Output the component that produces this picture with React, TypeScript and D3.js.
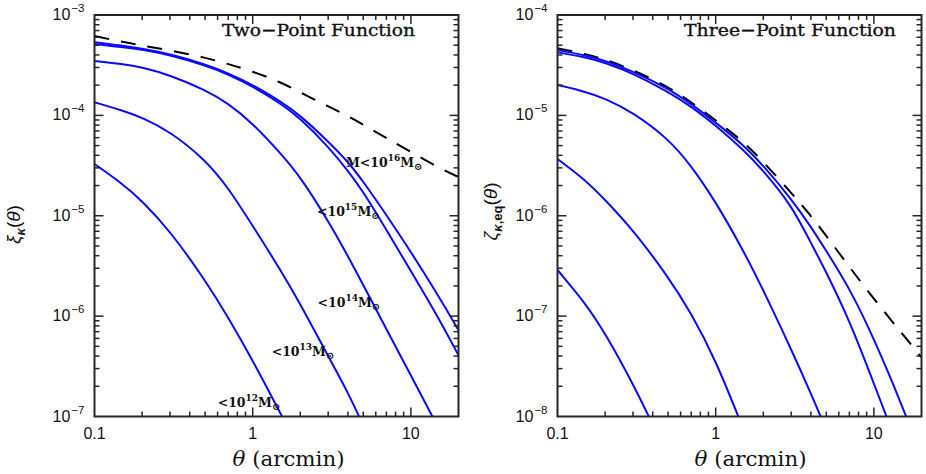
import React from "react";
import * as d3 from "d3";

// ---------- DATA ----------
const thetaGrid = [0.1, 0.15, 0.2, 0.3, 0.5, 0.7, 1, 1.5, 2, 3, 4, 5, 7, 10, 15, 20];

// Two-point function (left panel)
const twoPtTotal = [6.18e-4, 5.38e-4, 4.97e-4, 4.43e-4, 3.78e-4, 3.25e-4, 2.74e-4, 2.15e-4, 1.69e-4, 1.23e-4, 9.84e-5, 8.07e-5, 5.94e-5, 4.32e-5, 3.0e-5, 2.43e-5];
const twoPt16 = [5.35e-4, 4.95e-4, 4.62e-4, 4.09e-4, 3.24e-4, 2.63e-4, 2.02e-4, 1.38e-4, 1.0e-4, 5.5e-5, 3.47e-5, 2.19e-5, 1.02e-5, 4.37e-6, 1.58e-6, 7.24e-7];
const twoPt15 = [5.13e-4, 4.79e-4, 4.52e-4, 4.0e-4, 3.16e-4, 2.57e-4, 1.95e-4, 1.32e-4, 9.33e-5, 4.9e-5, 2.82e-5, 1.74e-5, 7.24e-6, 2.82e-6, 9.55e-7, 4.07e-7];
const twoPt14 = [3.48e-4, 3.25e-4, 3.01e-4, 2.52e-4, 1.79e-4, 1.32e-4, 8.34e-5, 4.19e-5, 2.45e-5, 8.91e-6, 3.98e-6, 2.04e-6, 7.41e-7, 2.57e-7, 7.59e-8];
const twoPt13 = [1.35e-4, 1.12e-4, 9.55e-5, 6.92e-5, 3.63e-5, 1.91e-5, 7.94e-6, 2.88e-6, 1.32e-6, 3.98e-7, 1.74e-7, 8.13e-8];
const twoPt12 = [3.28e-5, 2.09e-5, 1.41e-5, 7.08e-6, 2.29e-6, 9.77e-7, 3.63e-7, 1.07e-7, 4.47e-8];

// Three-point function (right panel)
const threePtTotal = [4.66e-5, 4.1e-5, 3.61e-5, 2.84e-5, 1.93e-5, 1.36e-5, 8.93e-6, 5.47e-6, 3.45e-6, 1.7e-6, 1.0e-6, 6.31e-7, 3.09e-7, 1.48e-7, 6.76e-8, 3.89e-8];
const threePt16 = [4.48e-5, 3.98e-5, 3.51e-5, 2.75e-5, 1.86e-5, 1.3e-5, 8.51e-6, 5.07e-6, 3.16e-6, 1.48e-6, 7.76e-7, 4.47e-7, 1.91e-7, 6.03e-8, 1.32e-8, 3.98e-9];
const threePt15 = [4.25e-5, 3.8e-5, 3.35e-5, 2.63e-5, 1.72e-5, 1.23e-5, 7.94e-6, 4.52e-6, 2.82e-6, 1.29e-6, 5.37e-7, 2.75e-7, 9.12e-8, 2.14e-8, 3.98e-9];
const threePt14 = [2.01e-5, 1.72e-5, 1.48e-5, 1.07e-5, 5.89e-6, 3.16e-6, 1.38e-6, 4.47e-7, 1.82e-7, 4.68e-8, 1.7e-8, 7.41e-9];
const threePt13 = [3.68e-6, 2.28e-6, 1.44e-6, 7.23e-7, 2.48e-7, 1.07e-7, 3.66e-8, 7.41e-9];
const threePt12 = [2.88e-7, 1.35e-7, 6.76e-8, 2.15e-8, 3.98e-9];

// Mass-cut labels (left panel): exponent, anchor theta, anchor value
const labelExp = ["16", "15", "14", "13", "12"];
const labelPrefix = ["M<10", "<10", "<10", "<10", "<10"];
const labelTheta = [11.0, 5.9, 5.95, 3.05, 1.39];
const labelValue = [2.97e-5, 9.8e-6, 1.2e-6, 3.95e-7, 1.22e-7];

const xDomain = [0.1, 20];
const leftYDomain = [1e-7, 1e-3];
const rightYDomain = [1e-8, 1e-4];

// ---------- LAYOUT ----------
const W = 926;
const H = 474;
const TOP = 15;
const BOTTOM = 416.5;
const BLUE = "#0a0aff";
const FRAME = "#262626";

type Series = { values: number[]; dashed?: boolean };

function Panel(props: {
  x0: number;
  x1: number;
  yDomain: number[];
  series: Series[];
  title: string;
  titleEnd: number;
  titleLen: number;
  yLabel: React.ReactNode;
  xLabelCenter: number;
  id: string;
  children?: (x: any, y: any) => React.ReactNode;
}) {
  const { x0, x1, yDomain, series, id } = props;
  const x = d3.scaleLog().domain(xDomain).range([x0, x1]);
  const y = d3.scaleLog().domain(yDomain).range([BOTTOM, TOP]);
  const line = d3
    .line<[number, number]>()
    .x((d) => x(d[0]))
    .y((d) => y(d[1]))
    .curve(d3.curveBasis);

  const xticks = x.ticks();
  const yticks = y.ticks();
  const isMajor = (v: number) => Math.abs(Math.log10(v) - Math.round(Math.log10(v))) < 1e-6;
  const majX = 9;
  const minX = 5;
  const majY = 9;
  const minY = 5;

  return (
    <g>
      <defs>
        <clipPath id={"clip" + id}>
          <rect x={x0} y={TOP} width={x1 - x0} height={BOTTOM - TOP} />
        </clipPath>
      </defs>
      <g clipPath={`url(#clip${id})`}>
        {series.map((s, i) => {
          const pts: [number, number][] = s.values.map((v, j) => [thetaGrid[j], v]);
          return (
            <path
              key={i}
              d={line(pts) || ""}
              fill="none"
              stroke={s.dashed ? "#000" : BLUE}
              strokeWidth={2}
              strokeDasharray={s.dashed ? "15,12" : undefined}
            />
          );
        })}
      </g>
      {/* ticks */}
      {xticks.map((t, i) => {
        const px = x(t);
        const L = isMajor(t) ? majX : minX;
        if (px < x0 + 0.5 || px > x1 - 0.5) return null;
        return (
          <g key={"xt" + i} stroke={FRAME} strokeWidth={1.5}>
            <line x1={px} x2={px} y1={BOTTOM} y2={BOTTOM - L} />
            <line x1={px} x2={px} y1={TOP} y2={TOP + L} />
          </g>
        );
      })}
      {yticks.map((t, i) => {
        const py = y(t);
        const L = isMajor(t) ? majY : minY;
        if (py < TOP + 0.5 || py > BOTTOM - 0.5) return null;
        return (
          <g key={"yt" + i} stroke={FRAME} strokeWidth={1.5}>
            <line x1={x0} x2={x0 + L} y1={py} y2={py} />
            <line x1={x1} x2={x1 - L} y1={py} y2={py} />
          </g>
        );
      })}
      <rect x={x0} y={TOP} width={x1 - x0} height={BOTTOM - TOP} fill="none" stroke={FRAME} strokeWidth={2} />
      {/* tick labels */}
      {xticks.filter(isMajor).map((t, i) => (
        <text
          key={"xl" + i}
          x={x(t)}
          y={BOTTOM + 22}
          textAnchor="middle"
          fontFamily="'Liberation Sans', Arial, sans-serif"
          fontSize={16}
          fill="#111"
        >
          {t >= 1 ? d3.format("d")(t) : String(t)}
        </text>
      ))}
      {yticks.filter(isMajor).map((t, i) => (
        <text
          key={"yl" + i}
          x={x0 - 10}
          y={y(t) + 5}
          textAnchor="end"
          fontFamily="'Liberation Sans', Arial, sans-serif"
          fontSize={16}
          fill="#111"
        >
          10
          <tspan fontSize={11.5} dy={-8} dx={1}>
            {"\u2212" + Math.round(-Math.log10(t))}
          </tspan>
        </text>
      ))}
      {/* title */}
      <text
        x={props.titleEnd}
        y={36}
        textAnchor="end"
        fontFamily="'DejaVu Serif', serif"
        fontSize={17.5}
        fill="#111"
        stroke="#111"
        strokeWidth={0.35}
        textLength={props.titleLen}
        lengthAdjust="spacingAndGlyphs"
      >
        {props.title}
      </text>
      {/* x label */}
      <text
        x={props.xLabelCenter}
        y={466}
        textAnchor="middle"
        fontFamily="'DejaVu Serif', serif"
        fontSize={20}
        fill="#111"
        textLength={112}
        lengthAdjust="spacingAndGlyphs"
      >
        <tspan fontStyle="italic">θ</tspan>
        {" (arcmin)"}
      </text>
      {props.yLabel}
      {props.children ? props.children(x, y) : null}
    </g>
  );
}

export default function App() {
  const leftSeries: Series[] = [
    { values: twoPtTotal, dashed: true },
    { values: twoPt16 },
    { values: twoPt15 },
    { values: twoPt14 },
    { values: twoPt13 },
    { values: twoPt12 },
  ];
  const rightSeries: Series[] = [
    { values: threePtTotal, dashed: true },
    { values: threePt16 },
    { values: threePt15 },
    { values: threePt14 },
    { values: threePt13 },
    { values: threePt12 },
  ];
  const sans = "'Liberation Sans', Arial, sans-serif";
  return (
    <div style={{ position: "absolute", left: 0, top: 0, width: W, height: H, background: "#fff" }}>
      <svg width={W} height={H} viewBox={`0 0 ${W} ${H}`} style={{ display: "block" }}>
        <rect width={W} height={H} fill="#fff" />
        <Panel
          id="L"
          x0={94.5}
          x1={458.5}
          yDomain={leftYDomain}
          series={leftSeries}
          title={"Two\u2212Point Function"}
          titleEnd={415}
          titleLen={193}
          xLabelCenter={288.5}
          yLabel={
            <text
              transform="translate(20,224.5) rotate(-90)"
              textAnchor="middle"
              fontFamily={sans}
              fontSize={19}
              fill="#111"
            >
              <tspan fontStyle="italic">ξ</tspan>
              <tspan fontSize={13} fontStyle="italic" fontWeight="bold" dy={5}>κ</tspan>
              <tspan dy={-5}>(</tspan>
              <tspan fontStyle="italic">θ</tspan>
              <tspan>)</tspan>
            </text>
          }
        >
          {(x, y) =>
            labelExp.map((e, i) => (
              <text
                key={"lab" + i}
                x={x(labelTheta[i]) + 5}
                y={y(labelValue[i]) - 1}
                textAnchor="end"
                fontFamily="'DejaVu Serif', serif"
                fontWeight="bold"
                fontSize={12.5}
                fill="#111"
              >
                {labelPrefix[i]}
                <tspan fontSize={9} dy={-6}>{e}</tspan>
                <tspan dy={6}>M</tspan>
                <tspan fontSize={10} dy={3}>⊙</tspan>
              </text>
            ))
          }
        </Panel>
        <Panel
          id="R"
          x0={557.5}
          x1={921.5}
          yDomain={rightYDomain}
          series={rightSeries}
          title={"Three\u2212Point Function"}
          titleEnd={896}
          titleLen={212}
          xLabelCenter={750.5}
          yLabel={
            <text
              transform="translate(497,211.5) rotate(-90)"
              textAnchor="middle"
              fontFamily={sans}
              fontSize={19}
              fill="#111"
            >
              <tspan fontStyle="italic">ζ</tspan>
              <tspan fontSize={13} fontWeight="bold" dy={5}>
                <tspan fontStyle="italic">κ</tspan>,eq
              </tspan>
              <tspan dy={-5}>(</tspan>
              <tspan fontStyle="italic">θ</tspan>
              <tspan>)</tspan>
            </text>
          }
        />
      </svg>
    </div>
  );
}
